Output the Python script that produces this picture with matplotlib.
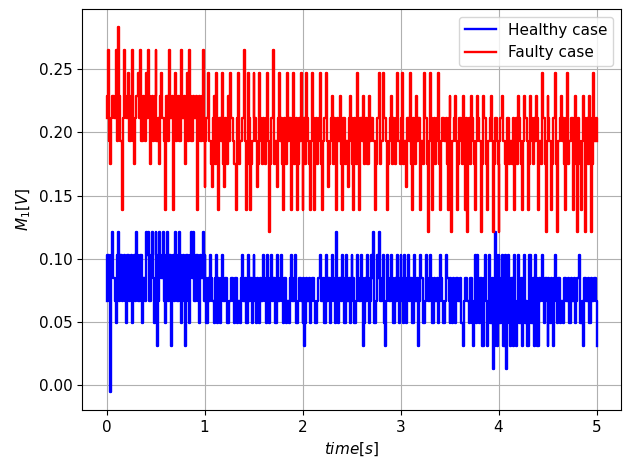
import numpy as np
import matplotlib
matplotlib.use("Agg")
import matplotlib.pyplot as plt

plt.rcParams['font.size'] = 11

# quantised ADC levels of the measured signal [V]
levels = [-0.005, 0.013, 0.031, 0.049, 0.067, 0.085, 0.103, 0.121, 0.139,
          0.157, 0.175, 0.193, 0.211, 0.229, 0.247, 0.265, 0.283]

dt = 0.01  # sampling step [s]

# level index of every sample, healthy machine
healthy_codes = [
    4, 6, 6, 4, 0, 6, 7, 5, 5, 4, 3, 6, 7, 4, 6, 6, 4, 5, 6, 4,
    3, 6, 6, 4, 5, 6, 3, 5, 6, 4, 7, 6, 4, 4, 6, 6, 3, 5, 5, 4,
    7, 6, 7, 4, 4, 6, 7, 5, 3, 4, 7, 6, 2, 4, 7, 6, 5, 5, 7, 4,
    3, 6, 7, 4, 6, 6, 2, 5, 6, 4, 7, 6, 4, 4, 7, 6, 3, 5, 6, 4,
    2, 6, 6, 4, 3, 6, 7, 5, 7, 4, 4, 6, 6, 4, 3, 6, 5, 5, 7, 4,
    6, 5, 3, 3, 5, 4, 6, 5, 4, 4, 3, 5, 6, 3, 5, 4, 3, 5, 6, 4,
    4, 5, 5, 3, 3, 4, 4, 5, 5, 4, 3, 5, 5, 3, 4, 4, 3, 5, 6, 4,
    4, 5, 3, 3, 6, 4, 5, 5, 3, 4, 6, 5, 4, 3, 5, 4, 3, 5, 4, 4,
    6, 5, 4, 3, 6, 4, 3, 5, 6, 4, 5, 5, 3, 3, 6, 4, 4, 5, 6, 4,
    3, 5, 5, 3, 4, 4, 3, 5, 6, 4, 4, 5, 6, 3, 3, 4, 5, 5, 4, 4,
    3, 5, 2, 3, 5, 4, 4, 5, 3, 4, 5, 5, 4, 3, 3, 4, 5, 5,
    6, 4, 4, 5, 3, 3, 6, 4, 5, 5, 3, 4, 6, 5, 4, 3, 7, 4, 3, 5,
    5, 4, 6, 5, 3, 3, 6, 4, 4, 5, 3, 4, 6, 5, 5, 3, 3, 4, 6, 5,
    4, 4, 6, 5, 2, 3, 5, 4, 6, 5, 3, 4, 6, 5, 7, 3, 3, 4, 6, 5,
    7, 4, 4, 5, 6, 3, 2, 4, 6, 5, 4, 4, 6, 5, 3, 3, 5, 4, 6, 5,
    3, 4, 6, 5, 4, 3, 6, 4, 3, 5, 6, 4, 5, 5, 3, 3, 6, 4, 4, 5,
    2, 4, 6, 5, 5, 3, 3, 4, 6, 5, 4, 4, 6, 5,
    3, 3, 5, 4, 4, 5, 3, 4, 6, 5, 4, 3, 3, 4, 6, 5, 5, 4, 3, 5,
    4, 3, 5, 4, 3, 5, 5, 4, 4, 5, 3, 3, 2, 4, 5, 5, 4, 4, 3, 5,
    5, 3,
    2, 4, 6, 3, 6, 4, 3, 5, 5, 2, 2, 5, 6, 4, 2, 4, 6, 3, 3, 5,
    1, 2, 7, 6, 2, 4, 6, 3, 3, 5, 6, 2, 2, 6, 1, 4, 6, 3, 2, 5,
    5, 2, 6, 3, 2, 4, 6, 3, 3, 5, 2, 5, 6, 3, 4, 2, 2, 6, 6, 3,
    3, 5, 2, 6, 5, 2, 2, 5, 4, 5,
    6, 4, 3, 5, 5, 4, 2, 5, 4, 3, 5, 4, 2, 5, 6, 4, 3, 5, 5, 3,
    4, 4, 3, 5, 5, 4, 4, 5, 3, 3, 5, 4, 4, 5, 3, 4, 5, 5, 6, 3,
    3, 4, 2, 5, 5, 4, 4, 5, 3, 3, 5, 4, 4, 5, 5, 4, 2,
]

# level index of every sample, faulty machine
faulty_codes = [
    12, 13, 15, 11, 10, 12, 13, 13, 12, 12, 15, 11, 16, 13, 11, 11, 8, 12, 15, 13,
    12, 12, 14, 11, 11, 13, 15, 11, 10, 12, 13, 13, 14, 12, 15, 11, 11, 13, 12, 11,
    14, 12, 15, 13, 10, 12, 13, 11, 12, 13, 15, 11, 11, 12, 10, 13, 14, 12, 12, 11,
    8, 13, 13, 11, 15, 12, 12, 13, 8, 12, 14, 11, 12, 13, 11, 11, 15, 12, 12, 13,
    10, 12, 14, 11, 15, 13, 11, 11, 13, 12, 12, 13, 8, 12, 13, 11, 11, 13, 15, 11,
    9, 11, 12, 12, 14, 11, 11, 10, 9, 12, 13, 10, 14, 11, 8, 12, 12, 11, 14, 10,
    9, 12, 11, 10, 13, 11, 14, 12, 12, 11, 10, 10, 8, 12, 14, 10, 11, 11, 12, 12,
    15, 11, 8, 10, 14, 12, 8, 10, 11, 11, 14, 12, 12, 11, 9, 10, 14, 12, 11, 10,
    12, 11, 10, 12, 14, 11, 7, 10, 12, 12, 15, 10, 11, 11, 9, 12, 14, 11, 12, 10,
    8, 12, 11, 10, 14, 11, 12, 12, 8, 11, 14, 10, 11, 12, 8, 10, 12, 11, 14, 12,
    8, 11, 12, 10, 14, 12, 11, 10, 8, 11, 14, 12, 8, 11, 12, 10, 11, 12, 14, 10,
    8, 11, 12, 12, 14, 11, 9, 10, 11, 12, 13, 10, 12, 11, 8, 12, 11, 11, 13, 10,
    8, 12, 12, 10, 11, 11, 9, 12, 13, 11, 12, 10, 8, 12, 11, 10, 14, 11, 8, 12,
    12, 11, 13, 10, 11, 12, 10, 10, 13, 11, 12, 12, 11, 11, 8, 10, 12, 12, 14, 10,
    11, 11, 14, 12, 12, 11, 8, 10, 11, 12, 13, 10, 12, 11, 10, 12, 14, 11, 11, 10,
    12, 12, 14, 10, 11, 11, 9, 12, 12, 11, 14, 10, 8, 12, 11, 10, 13, 11, 12, 12,
    8, 11, 11, 10, 14, 12, 12, 10, 7, 11, 14, 12,
    8, 11, 12, 10, 11, 12, 14, 10, 8, 11, 12, 12, 11, 11, 12, 10, 8, 12, 13, 10,
    7, 11, 11, 12, 13, 11, 8, 10, 12, 12, 11, 10, 13, 11, 8, 12, 7, 11, 12, 10,
    13, 12, 11, 10, 8, 11, 13, 12, 11, 11, 7, 10, 13, 12, 12, 10, 8, 11, 11, 12,
    13, 11, 7, 10, 12, 12, 11, 10, 7, 11, 12, 12, 13, 11, 11, 10, 8, 12, 12, 10,
    11, 11, 10, 12, 8, 11, 12, 10, 13, 12, 11, 10, 8, 11, 13, 12, 12, 11, 8, 10,
    13, 12, 11, 10, 12, 11, 13, 12, 8, 11, 11, 10, 14, 12, 12, 10, 7, 11, 13, 12,
    11, 11, 8, 10, 12, 12, 14, 10, 7, 11, 11, 12, 13, 11, 12, 10, 8, 12, 14, 10,
    11, 11, 12, 12, 8, 11, 13, 10, 7, 12, 11, 10, 8, 11, 13, 12, 7, 11, 12, 10,
    13, 12, 7, 10, 14, 11, 11, 12, 11,
]

healthy = np.array([levels[c] for c in healthy_codes])
faulty = np.array([levels[c] for c in faulty_codes])
t_healthy = np.arange(len(healthy)) * dt
t_faulty = np.arange(len(faulty)) * dt

fig = plt.figure(figsize=(6.25, 4.61), dpi=100)
ax = fig.add_axes([0.1312, 0.1106, 0.8624, 0.8699])

# samples are held between ticks -> vertical steps
ax.plot(t_healthy, healthy, color='b', lw=1.7, drawstyle='steps-post',
        label='Healthy case')
ax.plot(t_faulty, faulty, color='r', lw=1.7, drawstyle='steps-post',
        label='Faulty case')

ax.set_xlabel('$time[s]$')
ax.set_ylabel('$M_1[V]$')
ax.grid(True)
ax.legend(loc='upper right')

fig.savefig('out.png', dpi=100)
